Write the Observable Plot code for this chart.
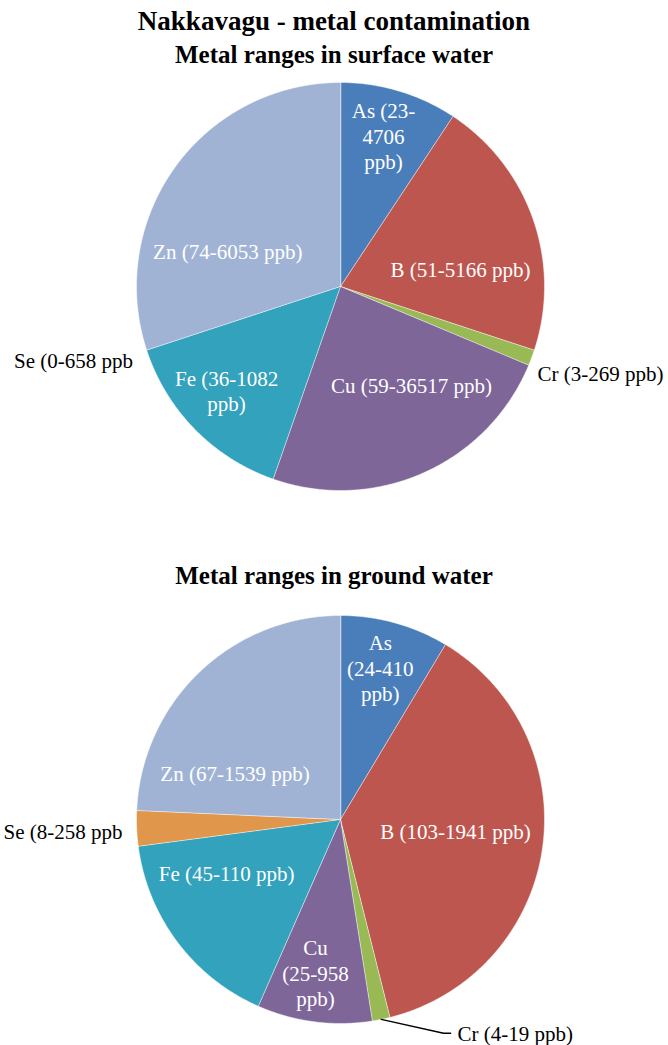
<!DOCTYPE html>
<html>
<head>
<meta charset="utf-8">
<script src="https://cdn.jsdelivr.net/npm/d3@7"></script>
<script src="https://cdn.jsdelivr.net/npm/@observablehq/plot@0.6"></script>
<style>
  html, body { margin: 0; padding: 0; background: #fff; }
  #page { position: relative; width: 668px; height: 1045px; overflow: hidden;
          font-family: "Liberation Serif", "Times New Roman", Times, serif; color: #000; }
  .t { position: absolute; left: 0; width: 668px; text-align: center; font-weight: bold; white-space: nowrap; }
  #title { top: 4px; font-size: 27px; line-height: 34px; }
  #sub1 { top: 40px; font-size: 25px; line-height: 30px; }
  #sub2 { top: 561px; font-size: 25px; line-height: 30px; }
  .pie { position: absolute; left: 0; }
  #pie1 { top: 75px; }
  #pie2 { top: 595px; }
  .pie svg text { font-family: "Liberation Serif", "Times New Roman", Times, serif; }
</style>
</head>
<body>
<div id="page">
  <div class="t" id="title">Nakkavagu - metal contamination</div>
  <div class="t" id="sub1">Metal ranges in surface water</div>
  <div class="pie" id="pie1"></div>
  <div class="t" id="sub2">Metal ranges in ground water</div>
  <div class="pie" id="pie2"></div>
</div>
<script>
// Metals, in slice order (clockwise from 12 o'clock)
const metals = ["As", "B", "Cr", "Cu", "Fe", "Se", "Zn"];
const metalColors = ["#4a7ebb", "#be5650", "#98b954", "#7e6699", "#33a2bc", "#e0964b", "#a0b3d5"];

// Share of each pie (percent)
const surfaceShare = [9.3, 20.75, 1.25, 24.05, 14.6, 0, 30.05];
const groundShare = [8.6, 37.5, 1.4, 9.1, 16.3, 2.8, 24.3];

// Concentration ranges shown in the slice labels
const surfaceLabels = ["As (23-\n4706\nppb)", "B (51-5166 ppb)", "Cr (3-269 ppb)", "Cu (59-36517 ppb)",
                       "Fe (36-1082\nppb)", "Se (0-658 ppb", "Zn (74-6053 ppb)"];
const groundLabels = ["As\n(24-410\nppb)", "B (103-1941 ppb)", "Cr (4-19 ppb)", "Cu\n(25-958\nppb)",
                      "Fe (45-110 ppb)", "Se (8-258 ppb", "Zn (67-1539 ppb)"];

// Label layout: [angle in degrees clockwise from 12 o'clock, distance as a fraction of the radius, anchor]
const surfaceLabelLayout = [[15.9, 0.77, "middle"], [81.5, 0.595, "middle"], [113.8, 1.055, "start"],
                            [144.1, 0.593, "middle"], [227.6, 0.756, "middle"], [250.4, 1.08, "end"],
                            [287.7, 0.58, "middle"]];
const groundLabelLayout = [[14.7, 0.77, "middle"], [95.5, 0.566, "middle"], [151.3, 1.195, "start"],
                           [189.3, 0.76, "middle"], [245, 0.616, "middle"], [267.1, 1.07, "end"],
                           [294, 0.566, "middle"]];

const W = 668;
const R = 204;       // pie radius in pixels
const CX = 340;      // pie centre, pixels from the left
const SERIF = '"Liberation Serif", "Times New Roman", Times, serif';

function pieChart({shares, labels, layout, height, cyTop, leaderFor}) {
  const rows = metals.map((metal, i) => ({metal, share: shares[i]}));
  const arcs = d3.pie().sort(null).value(d => d.share)(rows);

  // Slice outlines: centre, then points along the arc
  const outline = [];
  for (const a of arcs) {
    if (a.endAngle - a.startAngle <= 0) continue;
    const metal = a.data.metal;
    outline.push({metal, x: 0, y: 0});
    const n = Math.max(2, Math.ceil((a.endAngle - a.startAngle) / (Math.PI / 360)));
    for (let k = 0; k <= n; k++) {
      const t = a.startAngle + (a.endAngle - a.startAngle) * k / n;
      outline.push({metal, x: Math.sin(t), y: Math.cos(t)});
    }
  }

  const labelRows = metals.map((metal, i) => {
    const [deg, r, anchor] = layout[i];
    const t = deg * Math.PI / 180;
    return {metal, text: labels[i], x: r * Math.sin(t), y: r * Math.cos(t), anchor};
  });

  const textOpts = {x: "x", y: "y", text: "text", fontSize: 21, lineHeight: 1.2, fontFamily: SERIF};
  const marks = [
    Plot.line(outline, {x: "x", y: "y", z: "metal", fill: "metal", stroke: "white",
                        strokeWidth: 0.6, strokeOpacity: 0.8, curve: "linear-closed"}),
    Plot.text(labelRows.filter(d => d.anchor === "middle"),
              {...textOpts, fill: "white", textAnchor: "middle"}),
    Plot.text(labelRows.filter(d => d.anchor === "start"),
              {...textOpts, fill: "black", textAnchor: "start"}),
    Plot.text(labelRows.filter(d => d.anchor === "end"),
              {...textOpts, fill: "black", textAnchor: "end"})
  ];

  // Leader line from a thin slice to its outside label
  if (leaderFor) {
    const i = metals.indexOf(leaderFor);
    const a = arcs[i];
    const mid = (a.startAngle + a.endAngle) / 2;
    const lab = labelRows[i];
    const leader = [
      {x: Math.sin(mid), y: Math.cos(mid)},
      {x: lab.x - 14 / R, y: lab.y},
      {x: lab.x - 7 / R, y: lab.y}
    ];
    marks.push(Plot.line(leader, {x: "x", y: "y", stroke: "black", strokeWidth: 1.5}));
  }

  return Plot.plot({
    width: W,
    height,
    margin: 0,
    x: {domain: [-CX / R, (W - CX) / R], range: [0, W], axis: null},
    y: {domain: [-(height - cyTop) / R, cyTop / R], range: [height, 0], axis: null},
    color: {domain: metals, range: metalColors},
    style: {fontFamily: SERIF, background: "white", overflow: "visible"},
    marks
  });
}

document.getElementById("pie1").append(pieChart({
  shares: surfaceShare, labels: surfaceLabels, layout: surfaceLabelLayout,
  height: 450, cyTop: 211
}));

document.getElementById("pie2").append(pieChart({
  shares: groundShare, labels: groundLabels, layout: groundLabelLayout,
  height: 450, cyTop: 224, leaderFor: "Cr"
}));
</script>
</body>
</html>
